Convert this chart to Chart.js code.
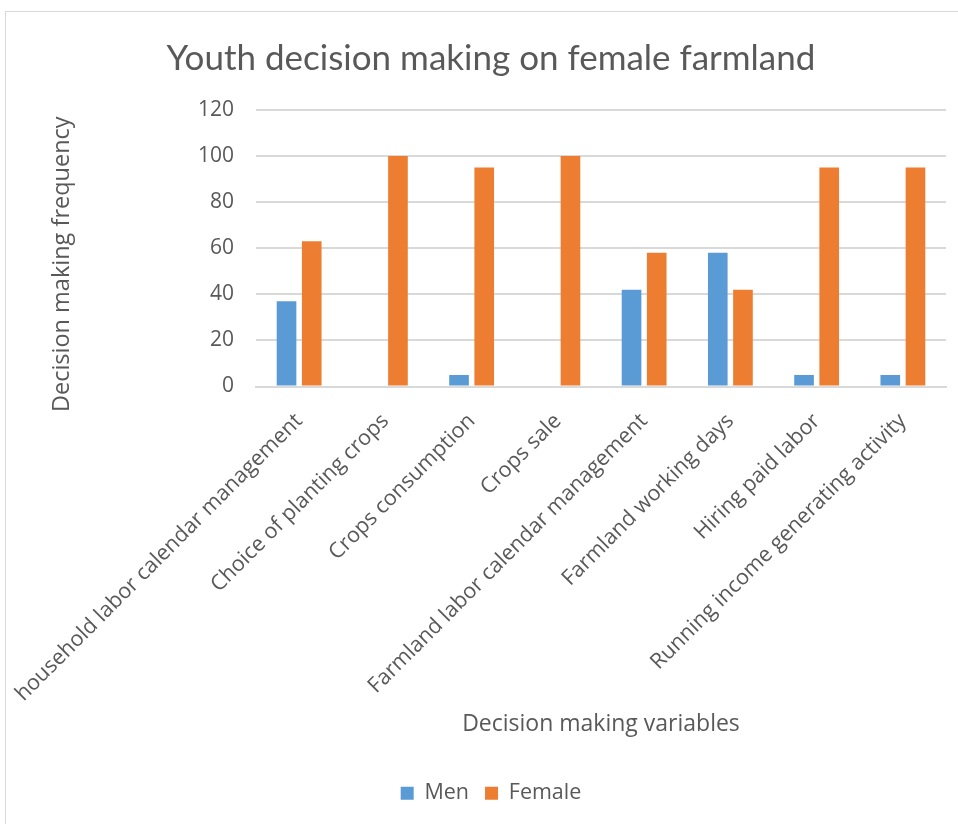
<!DOCTYPE html>
<html>
<head>
<meta charset="utf-8">
<script src="https://cdn.jsdelivr.net/npm/chart.js@4.4.1/dist/chart.umd.min.js"></script>
<style>
  html, body { margin: 0; padding: 0; background: #ffffff; }
  #wrap { width: 958px; height: 824px; position: relative; }
</style>
</head>
<body>
<div id="wrap"><canvas id="c" width="958" height="824"></canvas></div>
<script>
const chartTitle = "Youth decision making on female farmland";
const categories = [
  "household labor calendar management",
  "Choice of planting crops",
  "Crops consumption",
  "Crops sale",
  "Farmland labor calendar management",
  "Farmland working days",
  "Hiring paid labor",
  "Running income generating activity"
];
const seriesNames = ["Men", "Female"];
const menValues = [37, 0, 5, 0, 42, 58, 5, 5];
const femaleValues = [63, 100, 95, 100, 58, 42, 95, 95];
const yTicks = [0, 20, 40, 60, 80, 100, 120];
const yAxisTitle = "Decision making frequency";
const xAxisTitle = "Decision making variables";

const TXT = "#595959";
const LABEL_FONT = "'Open Sans', 'Noto Sans', sans-serif";

const frame = {
  id: 'frame',
  beforeDraw(chart) {
    const ctx = chart.ctx;
    ctx.save();
    ctx.fillStyle = '#ffffff';
    ctx.fillRect(0, 0, chart.width, chart.height);
    ctx.strokeStyle = '#d9d9d9';
    ctx.lineWidth = 1;
    ctx.strokeRect(5.5, 11.5, chart.width + 20, chart.height + 20);
    ctx.restore();
  },
  afterDraw(chart) {
    // vertical axis title, sitting slightly below the plot's middle as in the reference
    const ctx = chart.ctx;
    const area = chart.chartArea;
    ctx.save();
    ctx.fillStyle = TXT;
    ctx.font = "23.5px " + LABEL_FONT;
    ctx.textAlign = 'center';
    ctx.textBaseline = 'middle';
    ctx.translate(62, (area.top + area.bottom) / 2 + 16);
    ctx.rotate(-Math.PI / 2);
    ctx.fillText(yAxisTitle, 0, 0);
    ctx.restore();
  }
};

new Chart(document.getElementById('c'), {
  type: 'bar',
  data: {
    labels: categories,
    datasets: [
      { label: seriesNames[0], data: menValues, backgroundColor: '#5B9BD5', borderWidth: 0 },
      { label: seriesNames[1], data: femaleValues, backgroundColor: '#ED7D31', borderWidth: 0 }
    ]
  },
  plugins: [frame],
  options: {
    responsive: false,
    animation: false,
    devicePixelRatio: 1,
    layout: { padding: { left: 36, right: 12, top: 0, bottom: 10 } },
    datasets: { bar: { categoryPercentage: 0.584, barPercentage: 0.78 } },
    plugins: {
      title: {
        display: true,
        text: chartTitle,
        color: TXT,
        font: { family: "'Lato', sans-serif", size: 35, weight: 'normal', lineHeight: 1.2 },
        padding: { top: 38, bottom: 30 }
      },
      legend: {
        position: 'bottom',
        labels: {
          color: TXT,
          font: { family: LABEL_FONT, size: 21.5 },
          boxWidth: 13, boxHeight: 13, padding: 16
        }
      },
      tooltip: { enabled: false }
    },
    scales: {
      x: {
        grid: { display: false, drawTicks: false },
        border: { display: true, color: '#d9d9d9', width: 2 },
        ticks: {
          color: TXT,
          font: { family: LABEL_FONT, size: 21.5 },
          maxRotation: 45, minRotation: 45,
          padding: 22,
          autoSkip: false
        },
        title: {
          display: true,
          text: xAxisTitle,
          color: TXT,
          font: { family: LABEL_FONT, size: 23 },
          padding: { top: 0, bottom: 28 }
        },
        afterFit(scale) {
          scale.height = 380;
          scale.paddingLeft = 0;
          scale.paddingRight = 6;
        }
      },
      y: {
        min: 0, max: 120,
        afterBuildTicks(scale) { scale.ticks = yTicks.map(v => ({ value: v })); },
        grid: { color: '#d9d9d9', lineWidth: 2, drawTicks: false },
        border: { display: false },
        ticks: {
          color: TXT,
          font: { family: LABEL_FONT, size: 21 },
          padding: 22
        },
        title: { display: false },
        afterFit(scale) {
          scale.width = 220;
          scale.paddingTop = 0;
          scale.paddingBottom = 0;
        }
      }
    }
  }
});
</script>
</body>
</html>
